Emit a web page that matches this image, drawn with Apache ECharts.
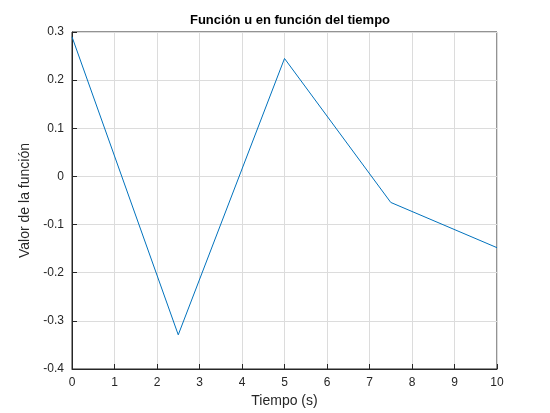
<!DOCTYPE html>
<html><head><meta charset="utf-8">
<script src="https://cdn.jsdelivr.net/npm/echarts@6/dist/echarts.min.js"></script>
<style>html,body{margin:0;padding:0;background:#fff}#c{width:550px;height:413px}</style>
</head><body><div id="c"></div>
<script>
const tiempo = [0, 2.5, 5, 7.5, 10];
const valores = [0.29, -0.329, 0.245, -0.054, -0.148];
const xTicks = [0,1,2,3,4,5,6,7,8,9,10];
const yTicks = [-0.4,-0.3,-0.2,-0.1,0,0.1,0.2,0.3];
const chart = echarts.init(document.getElementById('c'));
const axisCommon = {
  axisLine:{show:true,onZero:false,lineStyle:{color:'#262626',width:1}},
  axisTick:{show:true,inside:true,length:5,lineStyle:{color:'#262626'}},
  axisLabel:{color:'#262626',fontFamily:'Liberation Sans, Arial',fontSize:12},
  splitLine:{show:true,lineStyle:{color:'#dcdcdc',width:1}},
  nameTextStyle:{color:'#262626',fontFamily:'Liberation Sans, Arial',fontSize:14}
};
chart.setOption({
  animation:false,
  title:{text:'Función u en función del tiempo',left:285,top:9,textAlign:'center',
    textStyle:{fontFamily:'Liberation Sans, Arial',fontSize:13,fontWeight:'bold',color:'#000'}},
  grid:{left:72,right:53,top:32,bottom:44,show:true,borderColor:'#262626',borderWidth:1},
  xAxis:Object.assign({type:'value',min:0,max:10,interval:1,name:'Tiempo (s)',nameLocation:'middle',nameGap:25},axisCommon,
    {axisLabel:Object.assign({},axisCommon.axisLabel,{formatter:v=>String(v)})}),
  yAxis:Object.assign({type:'value',min:-0.4,max:0.3,interval:0.1,name:'Valor de la función',nameLocation:'middle',nameGap:33},axisCommon,
    {axisLabel:Object.assign({},axisCommon.axisLabel,{formatter:v=>{const r=Math.round(v*10)/10;return r===0?'0':String(r);}})}),
  series:[{type:'line',data:tiempo.map((t,i)=>[t,valores[i]]),showSymbol:false,
    lineStyle:{color:'#0072BD',width:1}}]
});
</script></body></html>
